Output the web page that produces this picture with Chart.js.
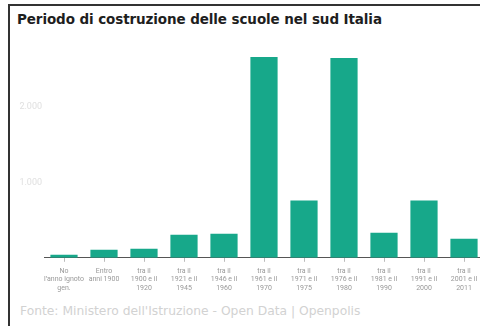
<!DOCTYPE html>
<html lang="it">
<head>
  <meta charset="UTF-8">
  <title>Periodo di costruzione delle scuole nel sud Italia</title>
  <style>
    body { margin: 0; background: #fff; font-family: Roboto, "Noto Sans", sans-serif; }
    #wrap { position: relative; width: 480px; height: 326px; overflow: hidden; }
    #frame { position: absolute; left: 8px; top: 4px; width: 480px; height: 330px;
             border-top: 2px solid #333; border-left: 2px solid #333; }
    #title { position: absolute; left: 17px; top: 11px; font-size: 13.5px; font-weight: 700;
             color: #1e1e1e; font-family: "DejaVu Sans", sans-serif; letter-spacing: -0.1px; }
    #foot { position: absolute; left: 20px; top: 304px; font-size: 12.3px; color: #d2d2d2;
            font-family: "DejaVu Sans", sans-serif; }
    #box { position: absolute; left: 0px; top: 35px; width: 490px; height: 262px; }
  </style>
</head>
<body>
  <div id="wrap">
    <div id="frame"></div>
    <div id="title">Periodo di costruzione delle scuole nel sud Italia</div>
    <div id="box"><canvas id="myChart"></canvas></div>
    <div id="foot">Fonte: Ministero dell'Istruzione - Open Data | Openpolis</div>
  </div>

  <script src="https://cdn.jsdelivr.net/npm/chart.js"></script>

  <script>
    const periodi = [
      ['No', 'l’anno ignoto', 'gen.'],
      ['Entro', 'anni 1900'],
      ['tra il', '1900 e il', '1920'],
      ['tra il', '1921 e il', '1945'],
      ['tra il', '1946 e il', '1960'],
      ['tra il', '1961 e il', '1970'],
      ['tra il', '1971 e il', '1975'],
      ['tra il', '1976 e il', '1980'],
      ['tra il', '1981 e il', '1990'],
      ['tra il', '1991 e il', '2000'],
      ['tra il', '2001 e il', '2011']
    ];
    const scuole = [40, 107, 120, 307, 320, 2667, 760, 2653, 333, 760, 253];
    const yTicks = [1000, 2000];

    const ctx = document.getElementById('myChart').getContext('2d');

    let chart = new Chart(ctx, {
      type: 'bar',
      data: {
        labels: periodi,
        datasets: [{
          label: 'Scuole',
          data: scuole,
          backgroundColor: '#17a88a',
          barPercentage: 0.68,
          categoryPercentage: 1
        }]
      },
      options: {
        responsive: true,
        maintainAspectRatio: false,
        animation: false,
        layout: { padding: { top: 12, right: 6, left: 0, bottom: 0 } },
        plugins: {
          legend: { display: false },
          tooltip: { enabled: false }
        },
        scales: {
          x: {
            grid: { display: true, drawOnChartArea: false, offset: false, color: '#bbb', tickLength: 4 },
            border: { display: true, color: '#555', width: 1 },
            ticks: {
              color: '#999',
              font: { size: 7, family: 'Roboto' },
              maxRotation: 0,
              autoSkip: false,
              padding: 5
            }
          },
          y: {
            min: 0,
            max: 2800,
            afterBuildTicks: axis => { axis.ticks = yTicks.map(v => ({ value: v })); },
            afterFit: axis => { axis.width = 44; },
            grid: { display: false, drawTicks: false },
            border: { display: false },
            ticks: {
              color: '#e0e0e0',
              font: { size: 9, family: 'Roboto' },
              callback: v => v.toLocaleString('it-IT'),
              padding: 2
            }
          }
        }
      }
    });
  </script>
</body>
</html>
